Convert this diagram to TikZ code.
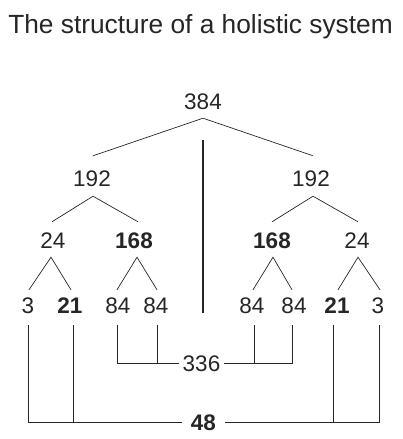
\documentclass[tikz,border=0pt]{standalone}
\usepackage{fontspec}
\setmainfont{Liberation Sans}
\usetikzlibrary{calc}
\tikzset{
  num/.style={inner xsep=0pt, inner ysep=0pt, text height=16pt, text depth=0pt, anchor=base,
    font=\fontsize{22.5}{22.5}\selectfont, text=black!85},
  bnum/.style={num, font=\fontsize{22.5}{22.5}\selectfont\bfseries},
  link/.style={draw=black!85, line width=0.7pt},
  spine/.style={draw=black!85, line width=2.6pt},
}
\begin{document}
\begin{tikzpicture}[x=1pt, y=-1pt]
\useasboundingbox (0,0) rectangle (403,439);
\node[anchor=base, inner sep=0pt, font=\fontsize{26.3}{26.3}\selectfont, text=black!85] (title) at (200.5,33) {The structure of a holistic system};
% tree nodes
\node[num] (top) at (203,109) {384};
\node[num] (hl) at (92,186) {192};
\node[num] (hr) at (311,186) {192};
\node[num] (ql) at (53,248) {24};
\node[bnum] (pl) at (134,248) {168};
\node[bnum] (pr) at (272,248) {168};
\node[num] (qr) at (357,248) {24};
\node[num] (a1) at (28,313) {3};
\node[bnum] (a2) at (70,313) {21};
\node[num] (a3) at (118,313) {84};
\node[num] (a4) at (156,313) {84};
\node[num] (a5) at (252,313) {84};
\node[num] (a6) at (294,313) {84};
\node[bnum] (a7) at (337,313) {21};
\node[num] (a8) at (378,313) {3};
\node[num, inner xsep=4pt] (s336) at (201.5,371) {336};
\node[bnum, inner xsep=9pt] (s48) at (203.5,430) {48};
% spine
\coordinate (sp1) at (203,140);
\coordinate (sp2) at (203,313);
\draw[spine] (sp1) -- (sp2);
% tree links
\draw[link] ([xshift=1pt,yshift=14pt]hl.north) -- ([yshift=-9pt]top.south) -- ([xshift=2pt,yshift=14pt]hr.north);
\draw[link] ([xshift=-1pt,yshift=10pt]ql.north) -- ([xshift=1pt,yshift=-10pt]hl.south) -- ([xshift=4pt,yshift=10pt]pl.north);
\draw[link] ([yshift=10pt]pr.north) -- ([xshift=2pt,yshift=-10pt]hr.south) -- ([xshift=1pt,yshift=10pt]qr.north);
\draw[link] ([xshift=1pt,yshift=7pt]a1.north) -- ([xshift=-2pt,yshift=-9pt]ql.south) -- ([xshift=1pt,yshift=7pt]a2.north);
\draw[link] ([xshift=-1pt,yshift=7pt]a3.north) -- ([xshift=3pt,yshift=-9pt]pl.south) -- ([xshift=1pt,yshift=7pt]a4.north);
\draw[link] ([xshift=1pt,yshift=7pt]a5.north) -- ([xshift=1pt,yshift=-9pt]pr.south) -- ([xshift=-2pt,yshift=7pt]a6.north);
\draw[link] ([xshift=1pt,yshift=7pt]a7.north) -- ([xshift=1pt,yshift=-9pt]qr.south) -- ([xshift=2pt,yshift=7pt]a8.north);
% 336 bracket
\draw[link] ([xshift=-1pt,yshift=-12pt]a3.south) |- (s336.west);
\draw[link] ([xshift=1pt,yshift=-12pt]a4.south) -- ([xshift=1pt]a4.south |- s336.west);
\draw[link] ([xshift=-2pt,yshift=-12pt]a6.south) |- (s336.east);
\draw[link] ([xshift=2pt,yshift=-12pt]a5.south) -- ([xshift=2pt]a5.south |- s336.east);
% 48 bracket
\draw[link] ([yshift=-12pt]a1.south) |- (s48.west);
\draw[link] ([xshift=3pt,yshift=-12pt]a2.south) -- ([xshift=3pt]a2.south |- s48.west);
\draw[link] ([xshift=1pt,yshift=-12pt]a8.south) |- (s48.east);
\draw[link] ([xshift=-4pt,yshift=-12pt]a7.south) -- ([xshift=-4pt]a7.south |- s48.east);
\end{tikzpicture}
\end{document}
